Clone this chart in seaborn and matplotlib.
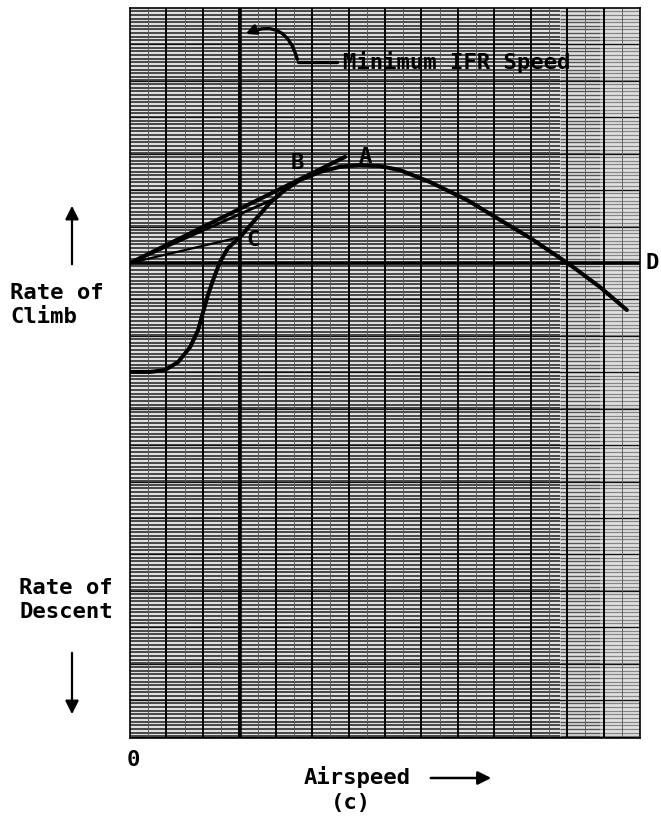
import numpy as np
import pandas as pd
import matplotlib
matplotlib.use("Agg")
import matplotlib.pyplot as plt
import seaborn as sns

# Rate-of-climb curve, in graph-paper divisions (airspeed, rate of climb)
airspeed = [0.0, 0.55, 0.96, 1.32, 1.65, 1.87, 2.00, 2.14, 2.28, 2.47, 2.69, 3.02,
            3.43, 3.84, 4.25, 4.67, 5.22, 5.76, 6.31, 6.86, 7.41, 8.24, 9.25, 10.16,
            10.98, 12.08, 12.90, 13.64]
climb = [-2.99, -2.99, -2.94, -2.72, -2.31, -1.84, -1.37, -0.88, -0.47, 0.03, 0.41, 0.71,
         1.18, 1.65, 2.00, 2.28, 2.50, 2.64, 2.69, 2.66, 2.55, 2.22, 1.73, 1.18,
         0.69, -0.05, -0.66, -1.29]

# Straight lines drawn from the origin
tangent_x = [0.0, 5.90]
tangent_y = [0.0, 2.91]
chord_x = [0.0, 4.00]
chord_y = [0.0, 1.78]
ifr_line_x = [0.0, 3.02]
ifr_line_y = [0.0, 0.71]

min_ifr_speed = 3.02
point_labels = ["A", "B", "C"]
label_x = [6.45, 4.58, 3.38]
label_y = [2.91, 2.75, 0.63]

XMAX = 14.0
YMIN, YMAX = -13.04, 7.0

sns.set_style("white")
plt.rcParams["font.family"] = ["DejaVu Sans Mono", "DejaVu Sans"]
plt.rcParams["text.color"] = "black"

W, H = 661, 823
fig = plt.figure(figsize=(W / 100, H / 100), dpi=100)
ax = fig.add_axes([130 / W, (H - 738) / H, 510 / W, 730 / H])
ax.set_xlim(0, XMAX)
ax.set_ylim(YMIN, YMAX)
ax.set_facecolor("#e0e0e0")

# graph paper: dense fine rulings, paler over the right-hand columns
fine = np.arange(YMIN + 0.05, YMAX, 0.1)
ax.hlines(fine, 0, 11.8, colors="#262626", linewidth=1.15, zorder=1)
ax.hlines(fine, 11.8, 12.9, colors="#555555", linewidth=1.0, zorder=1)
ax.hlines(fine, 12.9, XMAX, colors="#858585", linewidth=0.9, zorder=1)
ax.hlines(np.arange(-13, 7, 1), 0, XMAX, colors="#111111", linewidth=0.9, zorder=1)
ax.vlines(np.arange(1, 14, 1), YMIN, YMAX, colors="#000000", linewidth=1.4, zorder=2)
ax.vlines(np.arange(0.5, 14, 1), YMIN, YMAX, colors="#555555", linewidth=0.6, zorder=1)

for s in ax.spines.values():
    s.set_color("black")
    s.set_linewidth(1.2)
ax.set_xticks([])
ax.set_yticks([])

# zero rate-of-climb line and minimum IFR speed line
ax.plot([0, XMAX], [0, 0], color="black", linewidth=2.6, zorder=4)
ax.plot([min_ifr_speed, min_ifr_speed], [YMIN, YMAX], color="black", linewidth=2.6, zorder=4)

df = pd.DataFrame({"airspeed": airspeed, "climb": climb})
sns.lineplot(data=df, x="airspeed", y="climb", sort=False, color="black",
             linewidth=2.9, ax=ax, zorder=5)
sns.lineplot(x=tangent_x, y=tangent_y, color="black", linewidth=2.9, ax=ax, zorder=5)
sns.lineplot(x=chord_x, y=chord_y, color="black", linewidth=2.0, ax=ax, zorder=5)
sns.lineplot(x=ifr_line_x, y=ifr_line_y, color="black", linewidth=1.6, ax=ax, zorder=5)

for t, x, y in zip(point_labels, label_x, label_y):
    ax.text(x, y, t, fontsize=16, fontweight="bold", color="black",
            ha="center", va="center", zorder=6)
ax.text(14.33, 0, "D", fontsize=16, fontweight="bold", ha="center", va="center",
        clip_on=False)


def fx(px):
    return px / W


def fy(py):
    return 1 - py / H


# Minimum IFR Speed callout
fig.text(fx(343), fy(62), "Minimum IFR Speed", fontsize=16, fontweight="bold",
         color="black", ha="left", va="center", zorder=7)
fig.add_artist(plt.Line2D([fx(298), fx(337)], [fy(62), fy(62)], color="black", linewidth=2.4))
ax.annotate("", xy=(fx(243), fy(35)), xycoords="figure fraction",
            xytext=(fx(298), fy(62)), textcoords="figure fraction",
            arrowprops=dict(arrowstyle="-|>", color="black", lw=2.4,
                            connectionstyle="arc3,rad=0.6",
                            mutation_scale=14))

# vertical axis wording with arrows
fig.text(fx(10), fy(305), "Rate of\nClimb", fontsize=16, fontweight="bold",
         ha="left", va="center", multialignment="left", linespacing=1.2)
fig.text(fx(113), fy(600), "Rate of\nDescent", fontsize=16, fontweight="bold",
         ha="right", va="center", multialignment="right", linespacing=1.2)
ax.annotate("", xy=(fx(72), fy(203)), xycoords="figure fraction",
            xytext=(fx(72), fy(267)), textcoords="figure fraction",
            arrowprops=dict(arrowstyle="-|>", color="black", lw=1.6, mutation_scale=20))
ax.annotate("", xy=(fx(72), fy(717)), xycoords="figure fraction",
            xytext=(fx(72), fy(650)), textcoords="figure fraction",
            arrowprops=dict(arrowstyle="-|>", color="black", lw=1.6, mutation_scale=20))

# horizontal axis wording
fig.text(fx(133), fy(760), "0", fontsize=16, fontweight="bold", ha="center", va="center")
fig.text(fx(357), fy(777), "Airspeed", fontsize=16, fontweight="bold",
         ha="center", va="center")
ax.annotate("", xy=(fx(494), fy(778)), xycoords="figure fraction",
            xytext=(fx(428), fy(778)), textcoords="figure fraction",
            arrowprops=dict(arrowstyle="-|>", color="black", lw=1.8, mutation_scale=20))
fig.text(fx(351), fy(803), "(c)", fontsize=16, fontweight="bold", ha="center", va="center")

fig.savefig("out.png", dpi=100, facecolor="white")
